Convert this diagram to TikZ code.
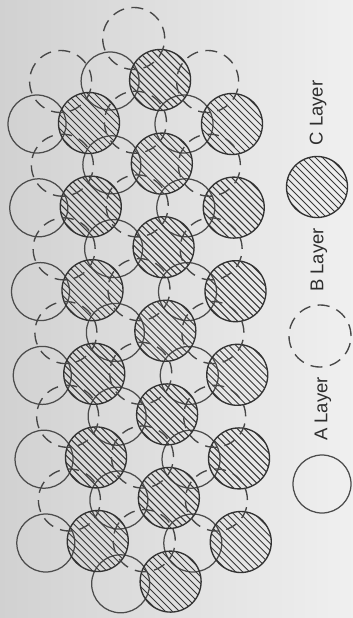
\documentclass[tikz,border=0pt]{standalone}
\usepackage{fontspec}
\setmainfont{Liberation Sans}
\begin{document}
\begin{tikzpicture}[x=1pt,y=-1pt,
  alayer/.style={circle, draw=black!70, line width=1.25pt, minimum size=58pt, inner sep=0pt},
  blayer/.style={circle, draw=black!72, line width=1.35pt, minimum size=62pt, inner sep=0pt,
                 dash pattern=on 12pt off 7.5pt},
  clayer/.style={circle, draw=black!80, line width=1.35pt, minimum size=61pt, inner sep=0pt,
    path picture={
      \foreach \k in {-9,...,9}{
        \draw[black!78, line width=1pt]
          ([shift={(\k*7.0,0)}]path picture bounding box.center) +(-45,-45) -- +(45,45);
      }}},
  lbl/.style={rotate=90, text=black!82, font=\fontsize{18.5}{22}\selectfont}]
\useasboundingbox (0,0) rectangle (353,618);
\shade[left color=black!18, right color=black!6] (0,0) rectangle (353,618);
% A layer
\foreach \x/\y/\n in {37/124/6, 111/81/7, 184/124/6}{
  \foreach \k in {1,...,\n}{
    \pgfmathsetmacro\yy{\y+83.8*(\k-1)}
    \pgfmathsetmacro\xx{\x+0.021*(\yy-124)}
    \node[alayer] (A-\x-\k) at (\xx,\yy) {};
  }}
% C layer
\foreach \x/\y/\n in {89/123/6, 161/80/7, 232/124/6}{
  \foreach \k in {1,...,\n}{
    \pgfmathsetmacro\yy{\y+83.6*(\k-1)}
    \pgfmathsetmacro\xx{\x+0.021*(\yy-124)}
    \node[clayer] (C-\x-\k) at (\xx,\yy) {};
  }}
% B layer
\foreach \x/\y/\n in {61.5/81.5/6, 135.5/38.5/7, 208.5/81.5/6}{
  \foreach \k in {1,...,\n}{
    \pgfmathsetmacro\yy{\y+83.7*(\k-1)}
    \pgfmathsetmacro\xx{\x+0.021*(\yy-124)}
    \node[blayer] (B-\x-\k) at (\xx,\yy) {};
  }}
% legend
\node[clayer] (legC) at (317,187) {};
\node[blayer] (legB) at (320,336) {};
\node[alayer] (legA) at (322,484) {};
\node[lbl] (txtC) at (318,113) {C Layer};
\node[lbl] (txtB) at (319,260) {B Layer};
\node[lbl] (txtA) at (323,409) {A Layer};
\end{tikzpicture}
\end{document}
